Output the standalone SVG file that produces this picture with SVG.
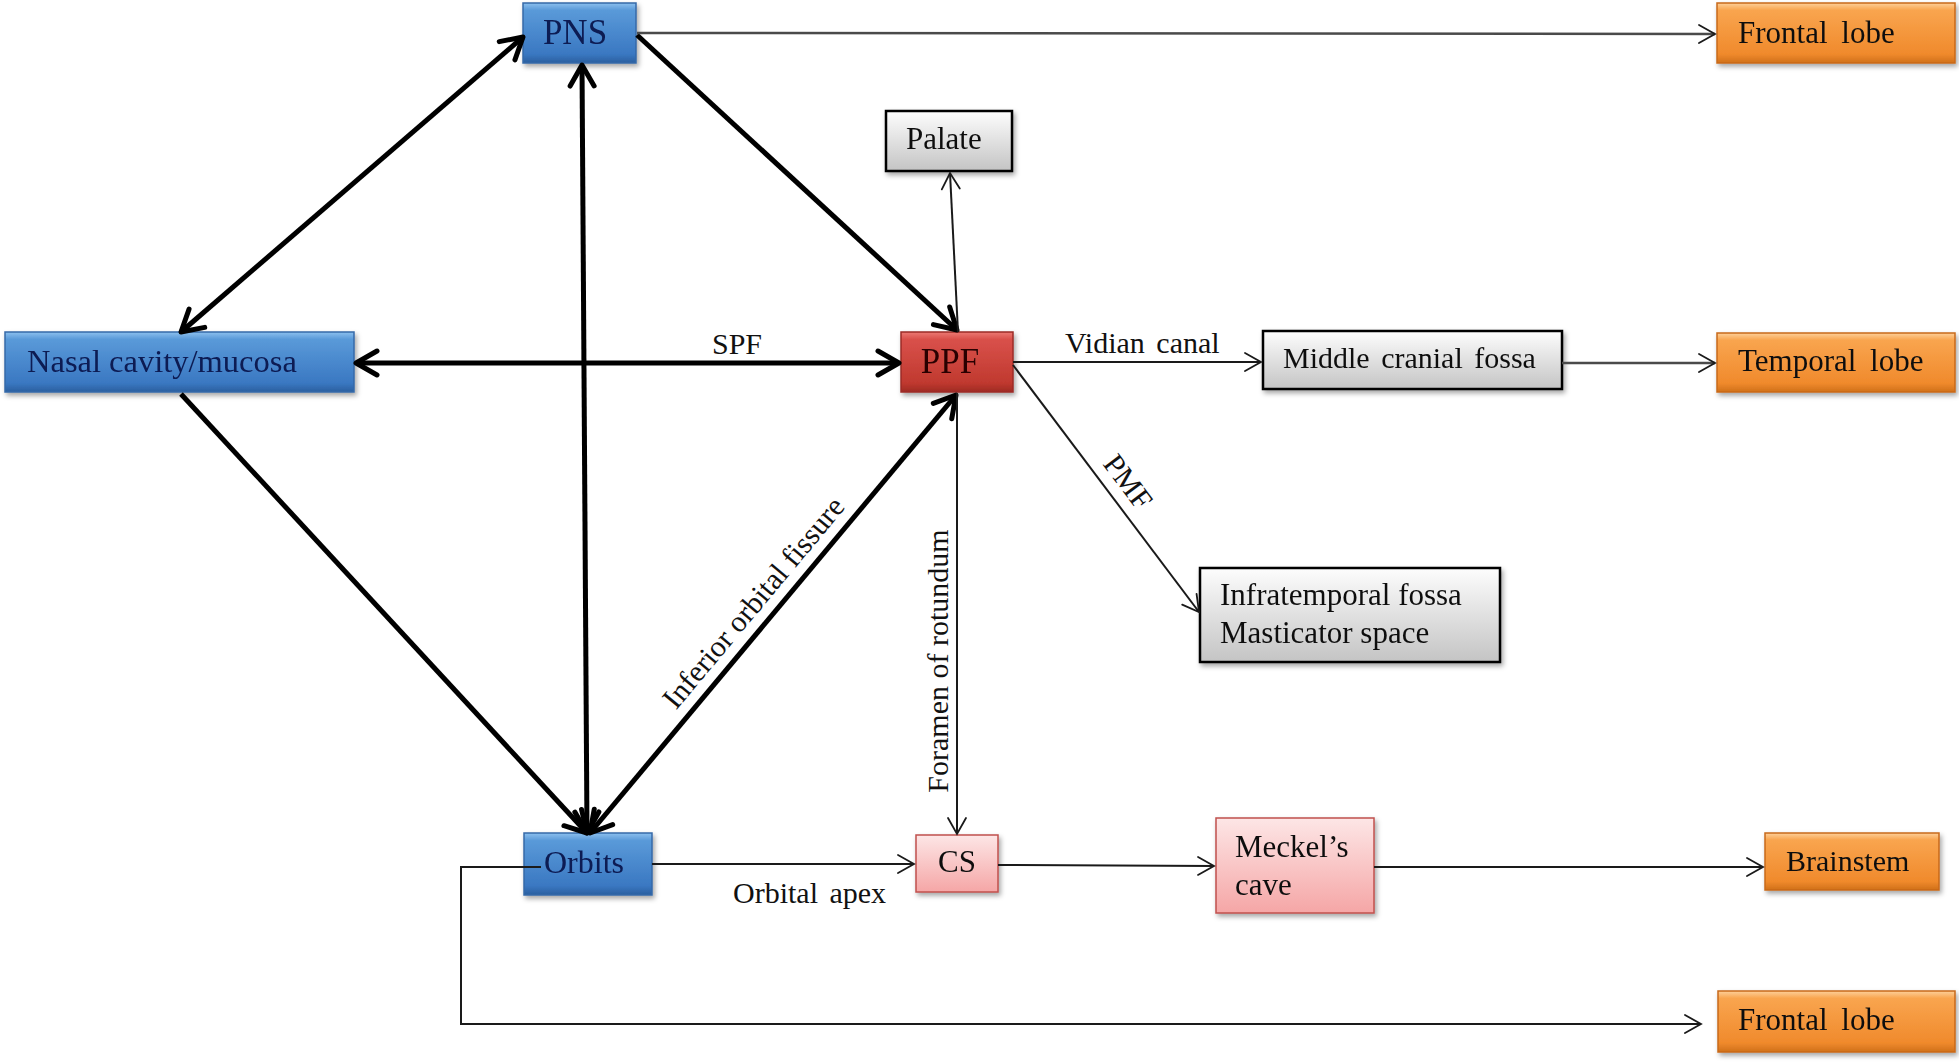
<svg xmlns="http://www.w3.org/2000/svg" width="1959" height="1064" viewBox="0 0 1959 1064">
<style>
  .t { font-family: "Liberation Serif", "Times New Roman", serif; font-size: 30px; fill: #111; }
  .ws { word-spacing: 6px; }
  .blueT { fill: #0c1a52; }
  .redT { fill: #2a0606; }
  .thick { fill: none; stroke: #000; stroke-width: 5; }
  .thin { fill: none; stroke: #1a1a1a; stroke-width: 2; }
  .gray-line { fill: none; stroke: #4a4a4a; stroke-width: 2.5; }
  .blue { fill: url(#gBlue); stroke: #3569a8; stroke-width: 1.5; }
  .red { fill: url(#gRed); stroke: #9c2b27; stroke-width: 1.5; }
  .orange { fill: url(#gOrange); stroke: #c8691a; stroke-width: 1.5; }
  .gray { fill: url(#gGray); stroke: #000; stroke-width: 2.5; }
  .pink { fill: url(#gPink); stroke: #c0504d; stroke-width: 1.5; }
</style>
<defs>
  <linearGradient id="gBlue" x1="0" y1="0" x2="0" y2="1">
    <stop offset="0" stop-color="#8cc0ee"/>
    <stop offset="0.12" stop-color="#5a9ad9"/>
    <stop offset="0.85" stop-color="#3a78c2"/>
    <stop offset="1" stop-color="#2a5f9f"/>
  </linearGradient>
  <linearGradient id="gRed" x1="0" y1="0" x2="0" y2="1">
    <stop offset="0" stop-color="#ec7a74"/>
    <stop offset="0.12" stop-color="#d9514b"/>
    <stop offset="0.85" stop-color="#c0392f"/>
    <stop offset="1" stop-color="#9e2a24"/>
  </linearGradient>
  <linearGradient id="gOrange" x1="0" y1="0" x2="0" y2="1">
    <stop offset="0" stop-color="#fdd09a"/>
    <stop offset="0.12" stop-color="#f9a54f"/>
    <stop offset="0.85" stop-color="#f08a2c"/>
    <stop offset="1" stop-color="#d0701a"/>
  </linearGradient>
  <linearGradient id="gGray" x1="0" y1="0" x2="0" y2="1">
    <stop offset="0" stop-color="#fdfdfd"/>
    <stop offset="1" stop-color="#c4c4c4"/>
  </linearGradient>
  <linearGradient id="gPink" x1="0" y1="0" x2="0" y2="1">
    <stop offset="0" stop-color="#fde6e6"/>
    <stop offset="1" stop-color="#f5a6a6"/>
  </linearGradient>
  <filter id="sh" x="-10%" y="-20%" width="130%" height="150%">
    <feDropShadow dx="2" dy="3" stdDeviation="2.5" flood-color="#000" flood-opacity="0.35"/>
  </filter>
  <marker id="ahT" viewBox="0 0 28 30" refX="24" refY="15" markerWidth="28" markerHeight="30" markerUnits="userSpaceOnUse" orient="auto-start-reverse">
    <path d="M3,3 L24,15 L3,27" fill="none" stroke="#000" stroke-width="5" stroke-linecap="round" stroke-linejoin="round"/>
  </marker>
  <marker id="ahN" viewBox="0 0 20 22" refX="18" refY="11" markerWidth="20" markerHeight="22" markerUnits="userSpaceOnUse" orient="auto-start-reverse">
    <path d="M2,2 L18,11 L2,20" fill="none" stroke="#1a1a1a" stroke-width="1.8" stroke-linecap="round" stroke-linejoin="miter"/>
  </marker>
</defs>
<rect width="1959" height="1064" fill="#fff"/>

<g id="nodes">
  <g id="pns" filter="url(#sh)"><rect class="blue" x="523" y="3" width="113" height="60"/><text class="t blueT" x="575" y="44" text-anchor="middle" style="font-size:35px">PNS</text></g>
  <g id="nasal" filter="url(#sh)"><rect class="blue" x="5" y="332" width="349" height="60"/><text class="t blueT" x="27" y="372" style="font-size:32.5px">Nasal cavity/mucosa</text></g>
  <g id="ppf" filter="url(#sh)"><rect class="red" x="901" y="332" width="112" height="60"/><text class="t redT" x="950" y="373" text-anchor="middle" style="font-size:35px">PPF</text></g>
  <g id="palate" filter="url(#sh)"><rect class="gray" x="886" y="111" width="126" height="60"/><text class="t" x="906" y="149" style="font-size:31px">Palate</text></g>
  <g id="mcf" filter="url(#sh)"><rect class="gray" x="1263" y="331" width="299" height="58"/><text class="t ws" x="1283" y="368" style="word-spacing:4px">Middle cranial fossa</text></g>
  <g id="frontal1" filter="url(#sh)"><rect class="orange" x="1717" y="3" width="238" height="60"/><text class="t ws" x="1738" y="43" style="font-size:31px">Frontal lobe</text></g>
  <g id="temporal" filter="url(#sh)"><rect class="orange" x="1717" y="333" width="238" height="59"/><text class="t ws" x="1738" y="371" style="font-size:31px">Temporal lobe</text></g>
  <g id="itf" filter="url(#sh)"><rect class="gray" x="1200" y="568" width="300" height="94"/><text class="t" x="1220" y="605" style="font-size:31px">Infratemporal fossa</text><text class="t" x="1220" y="643" style="font-size:31px">Masticator space</text></g>
  <g id="orbits" filter="url(#sh)"><rect class="blue" x="524" y="833" width="128" height="62"/><text class="t blueT" x="584" y="873" text-anchor="middle" style="font-size:32px">Orbits</text></g>
  <g id="cs" filter="url(#sh)"><rect class="pink" x="916" y="835" width="82" height="57"/><text class="t" x="957" y="872" text-anchor="middle" style="font-size:31px">CS</text></g>
  <g id="meckel" filter="url(#sh)"><rect class="pink" x="1216" y="818" width="158" height="95"/><text class="t" x="1235" y="857" style="font-size:31px">Meckel’s</text><text class="t" x="1235" y="895" style="font-size:31px">cave</text></g>
  <g id="brainstem" filter="url(#sh)"><rect class="orange" x="1765" y="833" width="174" height="57"/><text class="t" x="1786" y="871">Brainstem</text></g>
  <g id="frontal2" filter="url(#sh)"><rect class="orange" x="1718" y="991" width="237" height="61"/><text class="t ws" x="1738" y="1030" style="font-size:31px">Frontal lobe</text></g>
</g>

<g id="connectors">
  <line class="thick" x1="523" y1="37" x2="181" y2="332" marker-start="url(#ahT)" marker-end="url(#ahT)"/>
  <line class="thick" x1="582" y1="65" x2="587" y2="833" marker-start="url(#ahT)" marker-end="url(#ahT)"/>
  <line class="thick" x1="356" y1="363" x2="899" y2="363" marker-start="url(#ahT)" marker-end="url(#ahT)"/>
  <line class="thick" x1="637" y1="35" x2="957" y2="330" marker-end="url(#ahT)"/>
  <line class="thick" x1="181" y1="394" x2="587" y2="833" marker-end="url(#ahT)"/>
  <line class="thick" x1="590" y1="833" x2="956" y2="395" marker-start="url(#ahT)" marker-end="url(#ahT)"/>
  <line class="gray-line" x1="637" y1="33" x2="1715" y2="34" marker-end="url(#ahN)"/>
  <line class="thin" x1="958" y1="332" x2="950" y2="173" marker-end="url(#ahN)"/>
  <line class="thin" x1="1013" y1="362" x2="1261" y2="362" marker-end="url(#ahN)"/>
  <line class="thin" x1="1013" y1="365" x2="1199" y2="612" marker-end="url(#ahN)"/>
  <line class="thin" x1="957" y1="393" x2="957" y2="834" marker-end="url(#ahN)"/>
  <line class="gray-line" x1="1562" y1="363" x2="1715" y2="363" marker-end="url(#ahN)"/>
  <line class="thin" x1="652" y1="864" x2="914" y2="864" marker-end="url(#ahN)"/>
  <line class="thin" x1="998" y1="865" x2="1214" y2="866" marker-end="url(#ahN)"/>
  <line class="thin" x1="1374" y1="867" x2="1763" y2="867" marker-end="url(#ahN)"/>
  <polyline class="thin" points="541,867 461,867 461,1024 1701,1024" marker-end="url(#ahN)"/>
  <text class="t" x="737" y="354" text-anchor="middle">SPF</text>
  <text class="t" x="1065" y="353" style="word-spacing:4px">Vidian canal</text>
  <text class="t" x="733" y="903" style="word-spacing:4px">Orbital apex</text>
  <text class="t" transform="translate(761,609) rotate(-50.1)" text-anchor="middle">Inferior orbital fissure</text>
  <text class="t" transform="translate(948,661) rotate(-90)" text-anchor="middle">Foramen of rotundum</text>
  <text class="t" transform="translate(1120,488) rotate(52.9)" text-anchor="middle">PMF</text>
</g>
</svg>
